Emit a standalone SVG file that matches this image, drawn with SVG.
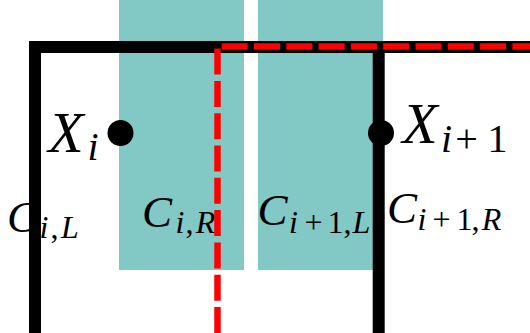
<svg xmlns="http://www.w3.org/2000/svg" width="530" height="333" viewBox="0 0 530 333">
<style>
.cell{fill:#82c8c4;}
text{font-family:"Liberation Serif","DejaVu Serif",serif;fill:#000;text-anchor:middle;font-style:italic;}
.up{font-style:normal;}
.big{font-size:58px;}
.sub{font-size:40px;}
.cl{font-size:45px;}
.cs{font-size:32px;}
.wall{fill:none;stroke:#000;stroke-width:12;stroke-linejoin:miter;stroke-linecap:butt;}
.cut{fill:none;stroke:#ff0000;stroke-width:6.5;stroke-dasharray:26 6.3;stroke-linejoin:miter;}
</style>
<g id="cell-i-R"><rect class="cell" x="119" y="0" width="125" height="270"/></g>
<g id="cell-i1-L"><rect class="cell" x="258" y="0" width="125" height="270"/></g>
<g id="labels">
<g id="label-C-i-L">
<text class="cl" x="22" y="232">C</text><text class="cs" x="44" y="238">i</text><text class="cs up" x="54.5" y="238">,</text><text class="cs" x="70" y="238">L</text>
</g>
<g id="label-C-i-R">
<text class="cl" x="157" y="227">C</text><text class="cs" x="180" y="233">i</text><text class="cs up" x="189.5" y="233">,</text><text class="cs" x="205.5" y="233">R</text>
</g>
<g id="label-C-i1-L">
<text class="cl" x="272.5" y="225">C</text><text class="cs" x="293.5" y="233">i</text><text class="cs up" x="313.5" y="233">+</text><text class="cs up" x="335.5" y="233">1</text><text class="cs up" x="347.5" y="233">,</text><text class="cs" x="361.5" y="233">L</text>
</g>
<g id="label-C-i1-R">
<text class="cl" x="402" y="223">C</text><text class="cs" x="422" y="230">i</text><text class="cs up" x="441.5" y="230">+</text><text class="cs up" x="464.5" y="230">1</text><text class="cs up" x="475.5" y="230">,</text><text class="cs" x="491.5" y="230">R</text>
</g>
</g>
<g id="connectors">
<path class="wall" d="M35 333V47H530"/>
<path class="wall" d="M378.7 333V47"/>
<path class="cut" d="M217.5 333V46.5H530"/>
</g>
<g id="X-i">
<circle cx="120.5" cy="133" r="13"/>
<text class="big" x="66" y="152">X</text><text class="sub" x="93" y="160">i</text>
</g>
<g id="X-i1">
<circle cx="381" cy="133" r="13"/>
<text class="big" x="420" y="143">X</text><text class="sub" x="446.5" y="152">i</text><text class="sub up" x="466.5" y="152">+</text><text class="sub up" x="497.5" y="152">1</text>
</g>
</svg>
